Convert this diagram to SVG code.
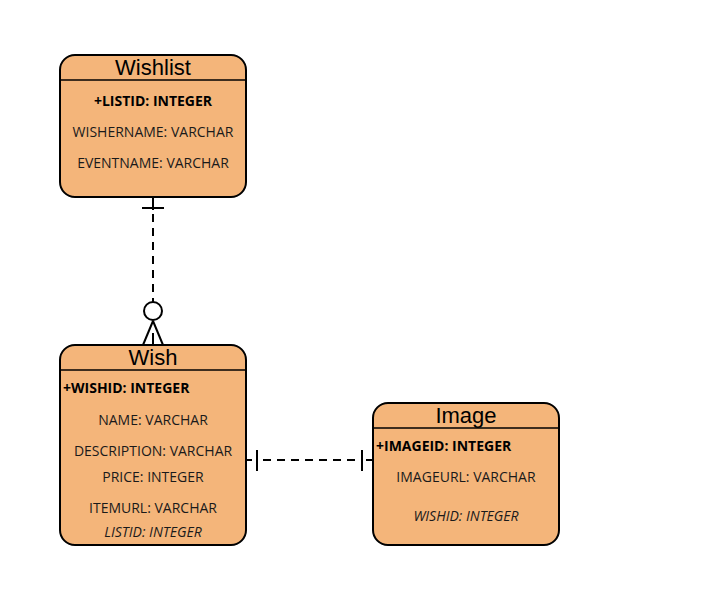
<svg xmlns="http://www.w3.org/2000/svg" width="722" height="607" viewBox="0 0 722 607">
<style>
.box{fill:#F4B57A;stroke:#000;stroke-width:2}
.sep{stroke:#000;stroke-width:1.5}
.title{font-family:"Liberation Sans",Arial,sans-serif;font-size:22px;fill:#000;text-anchor:middle}
.row{font-family:"Open Sans","Noto Sans",sans-serif;font-size:14px;fill:#1a1a1a;text-anchor:middle}
.b{font-weight:bold;fill:#000}
.l{text-anchor:start}
.i{font-style:italic}
.ln{stroke:#000;stroke-width:2;fill:none}
.d{stroke-dasharray:8 6}
</style>
<rect width="722" height="607" fill="#fff"/>
<g id="connectors">
<line class="ln" x1="153" y1="197" x2="153" y2="210"/>
<line class="ln" x1="142" y1="208" x2="164" y2="208"/>
<line class="ln d" x1="153" y1="214" x2="153" y2="302"/>
<circle class="ln" cx="153" cy="311" r="9" fill="#fff"/>
<line class="ln" x1="153" y1="321" x2="143" y2="345"/>
<line class="ln" x1="153" y1="321" x2="163" y2="345"/>
<line class="ln" x1="153" y1="333" x2="153" y2="345"/>
<line class="ln" x1="246" y1="460" x2="252" y2="460"/>
<line class="ln" x1="257" y1="450" x2="257" y2="471"/>
<line class="ln d" x1="263" y1="460" x2="356" y2="460"/>
<line class="ln" x1="362" y1="450" x2="362" y2="471"/>
<line class="ln" x1="366" y1="460" x2="373" y2="460"/>
</g>
<g id="wishlist">
<rect class="box" x="60" y="55" width="186" height="142" rx="15"/>
<line class="sep" x1="60" y1="80" x2="246" y2="80"/>
<text class="title" x="153" y="75">Wishlist</text>
<text class="row b" x="153" y="106">+LISTID: INTEGER</text>
<text class="row" x="153" y="137">WISHERNAME: VARCHAR</text>
<text class="row" x="153" y="168">EVENTNAME: VARCHAR</text>
</g>
<g id="wish">
<rect class="box" x="60" y="345" width="186" height="200" rx="15"/>
<line class="sep" x1="60" y1="370" x2="246" y2="370"/>
<text class="title" x="153" y="365">Wish</text>
<text class="row b l" x="63" y="393">+WISHID: INTEGER</text>
<text class="row" x="153" y="425">NAME: VARCHAR</text>
<text class="row" x="153" y="456">DESCRIPTION: VARCHAR</text>
<text class="row" x="153" y="482">PRICE: INTEGER</text>
<text class="row" x="153" y="513">ITEMURL: VARCHAR</text>
<text class="row i" x="153" y="537">LISTID: INTEGER</text>
</g>
<g id="image">
<rect class="box" x="373" y="403" width="186" height="142" rx="15"/>
<line class="sep" x1="373" y1="428" x2="559" y2="428"/>
<text class="title" x="466" y="423">Image</text>
<text class="row b l" x="376" y="451">+IMAGEID: INTEGER</text>
<text class="row" x="466" y="482">IMAGEURL: VARCHAR</text>
<text class="row i" x="466" y="521">WISHID: INTEGER</text>
</g>
</svg>
